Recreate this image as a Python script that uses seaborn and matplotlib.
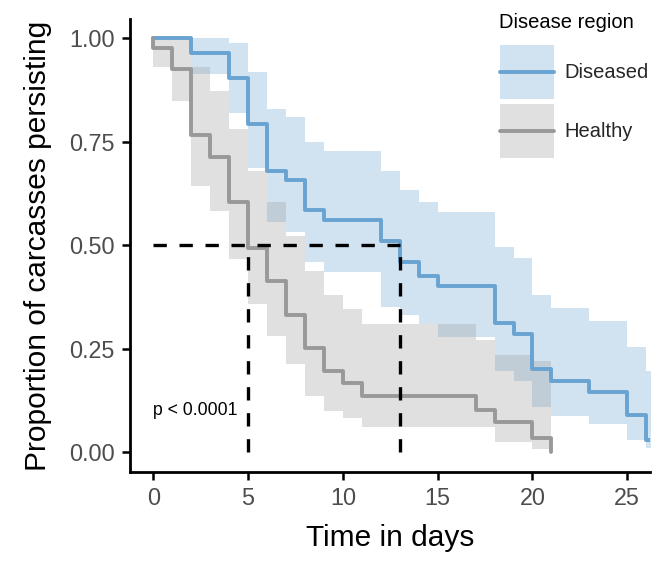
import numpy as np
import pandas as pd
import matplotlib
matplotlib.use("Agg")
import matplotlib.pyplot as plt
from matplotlib.patches import Patch
from matplotlib.lines import Line2D
from matplotlib.legend_handler import HandlerLine2D
import seaborn as sns

sns.set_theme(style="ticks")
plt.rcParams['font.family'] = ['Liberation Sans', 'DejaVu Sans']

# Kaplan-Meier estimates
groups = ["Diseased", "Healthy"]
colors = {"Diseased": "#68a3d2", "Healthy": "#999999"}

dis_time = [0, 2, 4, 5, 6, 7, 8, 9, 12, 13, 14, 15, 18, 19, 20, 21, 23, 25, 26]
dis_surv = [1.0, 0.965, 0.903, 0.792, 0.68, 0.657, 0.585, 0.56, 0.51, 0.458,
            0.426, 0.40, 0.313, 0.285, 0.20, 0.172, 0.146, 0.09, 0.03]
dis_upper = [1.0, 1.0, 0.987, 0.917, 0.828, 0.809, 0.749, 0.727, 0.68, 0.634,
             0.605, 0.58, 0.496, 0.47, 0.38, 0.348, 0.317, 0.253, 0.196]
dis_lower = [1.0, 0.913, 0.82, 0.685, 0.556, 0.531, 0.46, 0.435, 0.35, 0.33,
             0.31, 0.278, 0.196, 0.172, 0.109, 0.088, 0.068, 0.03, 0.01]
dis_end = 26.4

hea_time = [0, 0, 1, 2, 3, 4, 5, 6, 7, 8, 9, 10, 11, 17, 18, 20, 21]
hea_surv = [1.0, 0.977, 0.925, 0.766, 0.713, 0.603, 0.494, 0.414, 0.331, 0.251,
            0.195, 0.167, 0.136, 0.101, 0.072, 0.035, 0.0]
hea_upper = [1.0, 1.0, 1.0, 0.93, 0.872, 0.78, 0.68, 0.605, 0.521, 0.437,
             0.38, 0.345, 0.31, 0.27, 0.235, 0.22, 0.0]
hea_lower = [1.0, 0.93, 0.847, 0.642, 0.583, 0.466, 0.357, 0.28, 0.212, 0.136,
             0.10, 0.083, 0.06, 0.06, 0.024, 0.007, 0.0]
hea_end = 21

pval_text = "p < 0.0001"
legend_title = "Disease region"


class CenteredLine(HandlerLine2D):
    # put the key line in the middle of the tall key box
    def create_artists(self, legend, orig_handle, xdescent, ydescent,
                       width, height, fontsize, trans):
        return super().create_artists(legend, orig_handle, xdescent, ydescent,
                                      width, height - ydescent, fontsize, trans)


frames = []
for g, t, s, lo, up, end in [
        ("Diseased", dis_time, dis_surv, dis_lower, dis_upper, dis_end),
        ("Healthy", hea_time, hea_surv, hea_lower, hea_upper, hea_end)]:
    frames.append(pd.DataFrame({
        "time": t + [end], "surv": s + [s[-1]],
        "lower": lo + [lo[-1]], "upper": up + [up[-1]], "group": g}))
df = pd.concat(frames, ignore_index=True)

fig = plt.figure(figsize=(6.7, 5.74), dpi=100)
ax = fig.add_axes([130 / 670, 102 / 574, 520 / 670, 453 / 574])

# confidence bands
for g in groups:
    d = df[df.group == g]
    ax.fill_between(d.time, d.lower, d.upper, step="post",
                    color=colors[g], alpha=0.3, linewidth=0)

sns.lineplot(data=df, x="time", y="surv", hue="group", palette=colors,
             estimator=None, sort=False, drawstyle="steps-post",
             linewidth=2.8, legend=False, ax=ax)

# median survival lines
medians = []
for g in groups:
    d = df[df.group == g]
    medians.append(d.time[d.surv <= 0.5].iloc[0])
ax.plot([0, max(medians)], [0.5, 0.5], color="black", lw=2.4,
        dashes=(4.0, 3.8))
for m in medians:
    ax.plot([m, m], [0, 0.5], color="black", lw=2.4, dashes=(4.0, 3.8))

ax.text(0, 0.1, pval_text, ha="left", va="center", fontsize=12.7,
        color="black")

ax.set_xlim(-1.23, 26.2)
ax.set_ylim(-0.048, 1.046)
ax.set_xticks([0, 5, 10, 15, 20, 25])
ax.set_yticks([0, 0.25, 0.5, 0.75, 1.0])
ax.set_yticklabels(["0.00", "0.25", "0.50", "0.75", "1.00"])
ax.tick_params(axis="both", labelsize=16.8, labelcolor="#4d4d4d",
               color="black", width=1.8, length=6, pad=5)
for side in ["top", "right"]:
    ax.spines[side].set_visible(False)
for side in ["left", "bottom"]:
    ax.spines[side].set_linewidth(2.0)
    ax.spines[side].set_color("black")

ax.set_xlabel("Time in days", fontsize=21.5, color="black", labelpad=10)
ax.set_ylabel("Proportion of carcasses persisting", fontsize=21.5,
              color="black", labelpad=12)

handles = [(Patch(facecolor=colors[g], alpha=0.3, linewidth=0),
            Line2D([], [], color=colors[g], lw=2.8)) for g in groups]
fig.text(499 / 670, 1 - 28 / 574, legend_title, fontsize=14.5,
         ha="left", va="baseline", color="black")
leg = fig.legend(handles, groups, loc="upper left",
                 bbox_to_anchor=(500 / 670, 1 - 45 / 574),
                 handler_map={Line2D: CenteredLine()},
                 frameon=False, fontsize=14.5,
                 handlelength=2.68, handleheight=3.75, labelspacing=0.26,
                 handletextpad=0.5, borderpad=0, borderaxespad=0)

fig.savefig("out.png", dpi=100)
